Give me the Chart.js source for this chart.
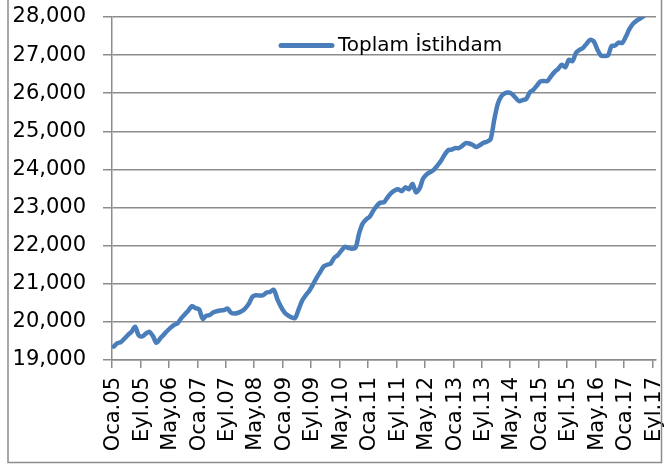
<!DOCTYPE html>
<html>
<head>
<meta charset="utf-8">
<script src="https://cdn.jsdelivr.net/npm/chart.js@4.4.0/dist/chart.umd.min.js"></script>
<style>
html,body{margin:0;padding:0;background:#fff;}
#wrap{width:664px;height:465px;position:relative;}
</style>
</head>
<body>
<div id="wrap"><canvas id="c" width="664" height="465"></canvas></div>
<script>
// Month abbreviations (Turkish) and years for category labels
const monthNames = ["Oca","Şub","Mar","Nis","May","Haz","Tem","Ağu","Eyl","Eki","Kas","Ara"];
const years = ["05","06","07","08","09","10","11","12","13","14","15","16","17"];

// Toplam İstihdam (thousand persons), monthly values
const v2005 = [19350,19440,19470,19560,19660,19740,19870,19650,19620,19690,19740,19630];
const v2006 = [19450,19560,19660,19760,19850,19920,19970,20100,20200,20300,20410,20360];
const v2007 = [20330,20080,20160,20180,20250,20280,20300,20310,20350,20240,20220,20240];
const v2008 = [20280,20360,20480,20660,20700,20690,20700,20770,20790,20840,20600,20400];
const v2009 = [20250,20170,20120,20100,20330,20560,20700,20820,20980,21150,21300,21450];
const v2010 = [21500,21530,21680,21750,21870,21970,21940,21920,21950,22320,22580,22690];
const v2011 = [22760,22920,23050,23130,23140,23270,23380,23450,23480,23430,23530,23480];
const v2012 = [23620,23400,23500,23760,23870,23930,23990,24100,24220,24380,24500,24520];
const v2013 = [24560,24560,24620,24690,24680,24640,24590,24640,24700,24730,24800,25300];
const v2014 = [25720,25920,26000,26020,25980,25880,25790,25820,25850,26020,26090,26200];
const v2015 = [26310,26320,26320,26450,26560,26640,26750,26680,26880,26840,27060,27140];
const v2016 = [27190,27300,27400,27360,27150,26990,26980,26990,27240,27250,27330,27320];
const v2017 = [27480,27680,27820,27900,27960,28020,28100,28180,28260];

const seriesName = "Toplam İstihdam";
const yTicks = [19000,20000,21000,22000,23000,24000,25000,26000,27000,28000];
const labelEvery = 8;

const values = [].concat(v2005,v2006,v2007,v2008,v2009,v2010,v2011,v2012,v2013,v2014,v2015,v2016,v2017);
const categories = [];
for (let y = 0; y < years.length; y++) {
  for (let m = 0; m < 12; m++) {
    if (categories.length < values.length) categories.push(monthNames[m] + "." + years[y]);
  }
}

const gridGray = '#8c8c8c';
const lineBlue = '#4a7ebb';

const frame = {
  id: 'frame',
  afterDraw(chart) {
    const ctx = chart.ctx;
    ctx.save();
    ctx.strokeStyle = gridGray;
    ctx.lineWidth = 1.5;
    ctx.beginPath();
    ctx.moveTo(8, 0); ctx.lineTo(8, 462.5);
    ctx.lineTo(661.5, 462.5); ctx.lineTo(661.5, 0);
    ctx.stroke();
    ctx.restore();
  }
};

// Legend drawn inside the plot area (line sample + series name from the dataset)
const insideLegend = {
  id: 'insideLegend',
  afterDatasetsDraw(chart) {
    const ctx = chart.ctx;
    const ds = chart.data.datasets[0];
    const x0 = 281, x1 = 332, yMid = 45.5;
    ctx.save();
    ctx.strokeStyle = ds.borderColor;
    ctx.lineWidth = 5;
    ctx.lineCap = 'round';
    ctx.beginPath();
    ctx.moveTo(x0, yMid); ctx.lineTo(x1, yMid);
    ctx.stroke();
    ctx.fillStyle = '#000';
    ctx.font = '20px "DejaVu Sans"';
    ctx.textBaseline = 'middle';
    ctx.textAlign = 'left';
    ctx.fillText(ds.label, 338, yMid);
    ctx.restore();
  }
};

new Chart(document.getElementById('c'), {
  type: 'line',
  data: {
    labels: categories,
    datasets: [{
      label: seriesName,
      data: values,
      borderColor: lineBlue,
      backgroundColor: lineBlue,
      borderWidth: 4.5,
      pointRadius: 0,
      tension: 0.3,
      borderCapStyle: 'round',
      borderJoinStyle: 'round',
      clip: {left: 6, right: 6, top: 0, bottom: 6}
    }]
  },
  options: {
    responsive: false,
    animation: false,
    layout: {padding: {left: 0, right: 8, top: 17, bottom: 0}},
    plugins: {
      tooltip: {enabled: false},
      legend: {display: false}
    },
    scales: {
      x: {
        type: 'category',
        offset: true,
        afterFit(scale) { scale.height = 105; scale.paddingLeft = 0; scale.paddingRight = 0; },
        border: {display: true, color: gridGray, width: 1.5},
        grid: {
          offset: true,
          drawOnChartArea: false,
          drawTicks: true,
          tickLength: 8,
          lineWidth: 1.5,
          color(ctx) { return (ctx.index % labelEvery === 0 && ctx.index < values.length) ? gridGray : 'rgba(0,0,0,0)'; }
        },
        ticks: {
          autoSkip: false,
          maxRotation: 90,
          minRotation: 90,
          padding: 9,
          color: '#000',
          font: {family: 'DejaVu Sans', size: 21},
          callback(val, idx) { return idx % labelEvery === 0 ? categories[idx] : ''; }
        }
      },
      y: {
        min: yTicks[0],
        max: yTicks[yTicks.length - 1],
        afterFit(scale) { scale.width = 112; scale.paddingTop = 0; scale.paddingBottom = 0; },
        afterBuildTicks(scale) { scale.ticks = yTicks.map(v => ({value: v})); },
        border: {display: true, color: gridGray, width: 1.5},
        grid: {color: gridGray, lineWidth: 1.5, tickLength: 9},
        ticks: {
          padding: 17,
          color: '#000',
          font: {family: 'DejaVu Sans', size: 21},
          callback(v) { return Number(v).toLocaleString('en-US'); }
        }
      }
    }
  },
  plugins: [frame, insideLegend]
});
</script>
</body>
</html>
